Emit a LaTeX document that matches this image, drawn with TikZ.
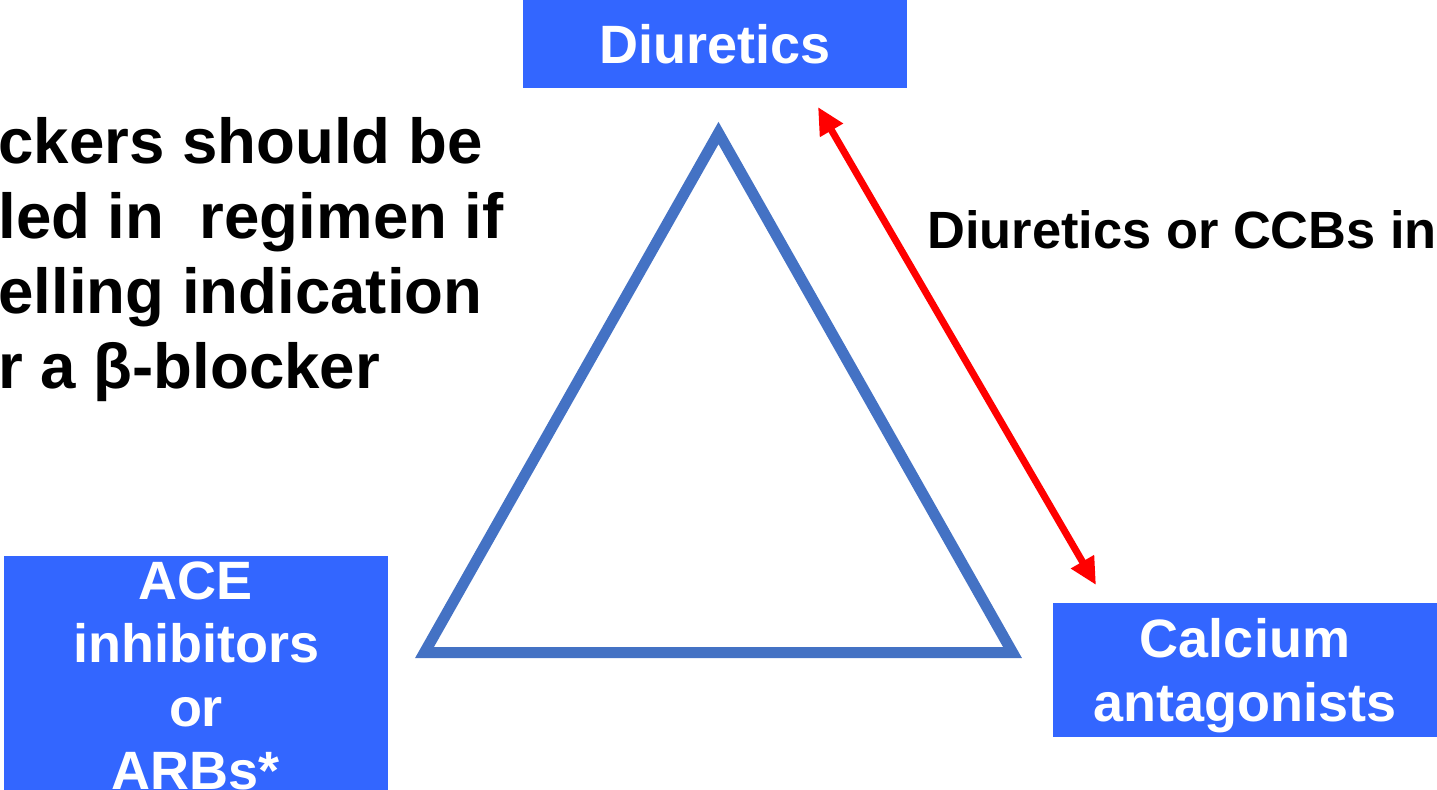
\documentclass[tikz,border=0pt]{standalone}
\usepackage{fontspec}
\setmainfont{Liberation Sans}
\usetikzlibrary{arrows.meta}
\definecolor{boxblue}{HTML}{3366FF}
\definecolor{triblue}{HTML}{4472C4}
\tikzset{
	drugbox/.style={fill=boxblue, text=white, align=center, inner sep=0pt, text depth=0pt,
		font=\fontsize{27}{31.75}\selectfont\bfseries},
	note/.style={anchor=base west, inner sep=0pt, font=\fontsize{31.8}{37.5}\selectfont\bfseries},
	redlink/.style={line width=3.5pt, red, {Triangle[length=13.5pt,width=12.5pt]}-{Triangle[length=13.5pt,width=12.5pt]}}
}
\begin{document}
\begin{tikzpicture}[x=0.5pt,y=-0.5pt]
		\useasboundingbox (0,0) rectangle (1437,789);
		\clip (0,0) rectangle (1437,789);
		% triangle
		\coordinate (apex) at (718.5,133);
		\coordinate (left) at (424.5,652.5);
		\coordinate (right) at (1012.5,652.5);
		\draw [triblue, line width=5.5pt, line join=miter] (apex) -- (left) -- (right) -- cycle;
		% drug classes
		\node [drugbox, minimum width=192pt, minimum height=44pt] (diu) at (715,44) {Diuretics};
		\node [drugbox, minimum width=192pt, minimum height=119pt, anchor=north] (ace) at (196,556) {ACE\\inhibitors\\or\\ARBs*};
		\node [drugbox, minimum width=192pt, minimum height=67pt] (cca) at (1245,670) {Calcium\\antagonists};
		% red link
		\coordinate (linkA) at (818,107);
		\coordinate (linkB) at (1096,585);
		\draw [redlink] (linkA) -- (linkB);
		\node [note, font=\fontsize{26.2}{31.75}\selectfont\bfseries] (pair) at (927,248) {Diuretics or CCBs in};
		% beta-blocker note
		\node [note] (n1) at (-2,163) {ckers should be};
		\node [note] (n2) at (-2,238) {led in\ \ regimen if};
		\node [note] (n3) at (-2,313) {elling indication};
		\node [note] (n4) at (-2,388) {r a β-blocker};
	\end{tikzpicture}
\end{document}
